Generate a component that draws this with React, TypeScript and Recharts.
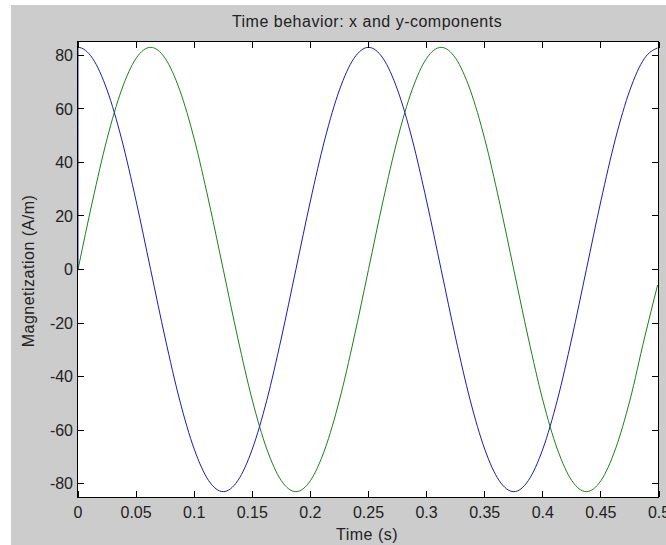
import React from "react";
import { LineChart, Line, XAxis, YAxis } from "recharts";

// Time samples (s)
const timeS = [
  0, 0.0125, 0.025, 0.0375, 0.05, 0.0625, 0.075, 0.0875, 0.1, 0.1125,
  0.125, 0.1375, 0.15, 0.1625, 0.175, 0.1875, 0.2, 0.2125, 0.225, 0.2375,
  0.25, 0.2625, 0.275, 0.2875, 0.3, 0.3125, 0.325, 0.3375, 0.35, 0.3625,
  0.375, 0.3875, 0.4, 0.4125, 0.425, 0.4375, 0.45, 0.4625, 0.475, 0.4875,
  0.4988,
];

// x-component (blue)
const xComponent = [
  83, 78.9, 67.1, 48.8, 25.6, 0, -25.6, -48.8, -67.1, -78.9,
  -83, -78.9, -67.1, -48.8, -25.6, 0, 25.6, 48.8, 67.1, 78.9,
  83, 78.9, 67.1, 48.8, 25.6, 0, -25.6, -48.8, -67.1, -78.9,
  -83, -78.9, -67.1, -48.8, -25.6, 0, 25.6, 48.8, 67.1, 78.9,
  82.8,
];
// the blue trace starts from 0 at t = 0 (vertical jump)
const xStartValue = 0;

// y-component (green)
const yComponent = [
  0, 25.6, 48.8, 67.1, 78.9, 83, 78.9, 67.1, 48.8, 25.6,
  0, -25.6, -48.8, -67.1, -78.9, -83, -78.9, -67.1, -48.8, -25.6,
  0, 25.6, 48.8, 67.1, 78.9, 83, 78.9, 67.1, 48.8, 25.6,
  0, -25.6, -48.8, -67.1, -78.9, -83, -78.9, -67.1, -48.8, -25.6,
  -5.8,
];

const xTicks = [0, 0.05, 0.1, 0.15, 0.2, 0.25, 0.3, 0.35, 0.4, 0.45, 0.5];
const yTicks = [-80, -60, -40, -20, 0, 20, 40, 60, 80];

const blueData = [
  { t: 0, v: xStartValue },
  ...timeS.map((t, i) => ({ t, v: xComponent[i] })),
];
const greenData = timeS.map((t, i) => ({ t, v: yComponent[i] }));

const FONT = "'Liberation Sans', Arial, sans-serif";

// layout
const PLOT_LEFT = 78;
const PLOT_TOP = 42;
const PLOT_RIGHT = 658;
const PLOT_BOTTOM = 497;
const TICK_LEN = 6;
const X_MARGIN = 10;
const Y_MARGIN = 5;

function BottomTick(props: any) {
  const { x, y, payload } = props;
  const axisY = y - X_MARGIN;
  return (
    <g>
      <line x1={x} x2={x} y1={axisY} y2={axisY - TICK_LEN} stroke="#000" strokeWidth={1} shapeRendering="crispEdges" />
      <line x1={x} x2={x} y1={PLOT_TOP} y2={PLOT_TOP + TICK_LEN} stroke="#000" strokeWidth={1} shapeRendering="crispEdges" />
      <text x={x} y={y} dy="0.71em" textAnchor="middle" fontSize={16} fontFamily={FONT} fill="#222">
        {String(payload.value)}
      </text>
    </g>
  );
}

function LeftTick(props: any) {
  const { x, y, payload } = props;
  const axisX = x + Y_MARGIN;
  return (
    <g>
      <line x1={axisX} x2={axisX + TICK_LEN} y1={y} y2={y} stroke="#000" strokeWidth={1} shapeRendering="crispEdges" />
      <line x1={PLOT_RIGHT} x2={PLOT_RIGHT - TICK_LEN} y1={y} y2={y} stroke="#000" strokeWidth={1} shapeRendering="crispEdges" />
      <text x={x} y={y} dy="0.355em" textAnchor="end" fontSize={16} fontFamily={FONT} fill="#222">
        {String(payload.value)}
      </text>
    </g>
  );
}

export default function App() {
  return (
    <div style={{ position: "relative", width: 666, height: 545, background: "#fff", overflow: "hidden" }}>
      <style>{"body{margin:0}"}</style>
      <div style={{ position: "absolute", left: 11, top: 5, width: 655, height: 540, background: "#cccccc" }} />
      <div
        style={{
          position: "absolute", left: PLOT_LEFT - 1, top: PLOT_TOP - 1,
          width: PLOT_RIGHT - PLOT_LEFT + 2, height: PLOT_BOTTOM - PLOT_TOP + 2,
          background: "#ffffff", border: "1px solid #000", boxSizing: "border-box",
        }}
      />
      <div style={{ position: "absolute", left: 0, top: 0 }}>
        <LineChart
          width={666}
          height={545}
          margin={{ top: PLOT_TOP, right: 666 - PLOT_RIGHT - 1, bottom: 545 - PLOT_BOTTOM - 1, left: 0 }}
        >
          <XAxis
            xAxisId="bottom"
            dataKey="t"
            type="number"
            domain={[0, 0.5]}
            allowDataOverflow
            ticks={xTicks}
            interval={0}
            orientation="bottom"
            height={1}
            tickSize={0}
            tickMargin={X_MARGIN}
            tick={<BottomTick />}
            axisLine={false}
            tickLine={false}
          />
          <XAxis
            xAxisId="top"
            dataKey="t"
            type="number"
            domain={[0, 0.5]}
            allowDataOverflow
            orientation="top"
            height={0}
            hide
          />
          <YAxis
            yAxisId="left"
            type="number"
            domain={[-85, 85]}
            allowDataOverflow
            ticks={yTicks}
            interval={0}
            orientation="left"
            width={PLOT_LEFT}
            tickSize={0}
            tickMargin={Y_MARGIN}
            tick={<LeftTick />}
            axisLine={false}
            tickLine={false}
          />
          <YAxis
            yAxisId="right"
            type="number"
            domain={[-85, 85]}
            allowDataOverflow
            orientation="right"
            width={1}
            hide
          />
          <Line
            xAxisId="top"
            yAxisId="right"
            data={greenData}
            dataKey="v"
            type="monotone"
            stroke="#1a801a"
            strokeWidth={1}
            dot={false}
            activeDot={false}
            isAnimationActive={false}
          />
          <Line
            xAxisId="bottom"
            yAxisId="left"
            data={blueData}
            dataKey="v"
            type="monotone"
            stroke="#1c1cb0"
            strokeWidth={1}
            dot={false}
            activeDot={false}
            isAnimationActive={false}
          />
        </LineChart>
      </div>
      <div
        style={{
          position: "absolute", left: 167, width: 400, top: 13.5, textAlign: "center",
          fontFamily: FONT, fontSize: 16, lineHeight: "16px", letterSpacing: 0.5, color: "#222",
        }}
      >
        Time behavior: x and y-components
      </div>
      <div
        style={{
          position: "absolute", left: 267, width: 200, top: 526.5, textAlign: "center",
          fontFamily: FONT, fontSize: 16, lineHeight: "16px", letterSpacing: 0.5, color: "#222",
        }}
      >
        Time (s)
      </div>
      <div
        style={{
          position: "absolute", left: 29, top: 271, transform: "translate(-50%, -50%) rotate(-90deg)",
          whiteSpace: "nowrap", fontFamily: FONT, fontSize: 16, lineHeight: "16px", letterSpacing: 0.5, color: "#222",
        }}
      >
        Magnetization (A/m)
      </div>
    </div>
  );
}
